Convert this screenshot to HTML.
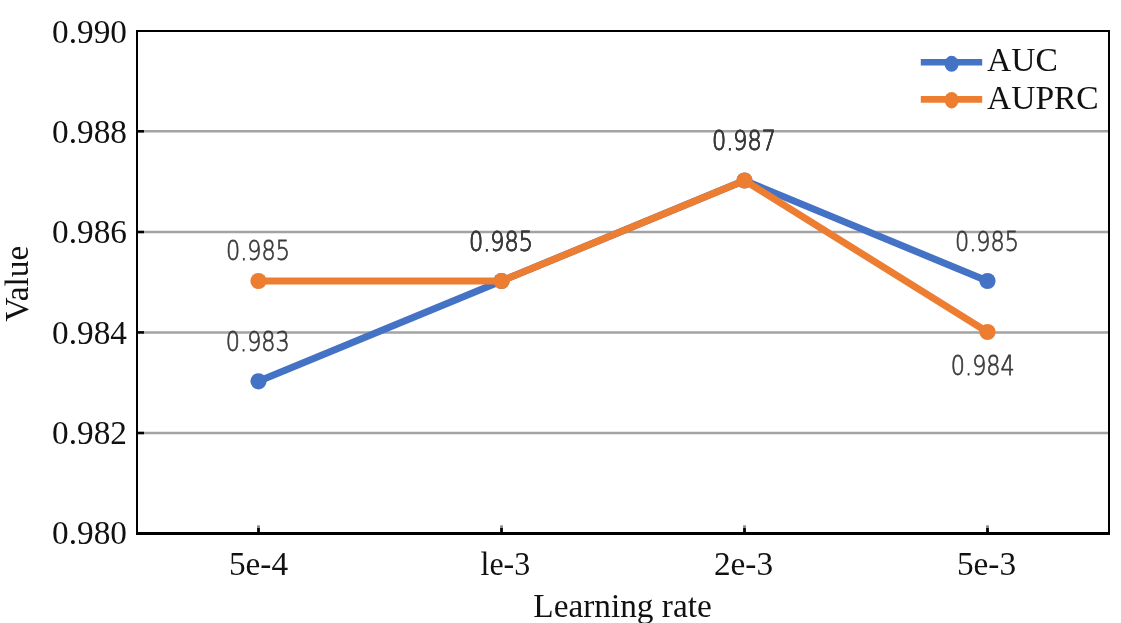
<!DOCTYPE html>
<html>
<head>
<meta charset="utf-8">
<style>
html,body{margin:0;padding:0;background:#fff;}
body{width:1121px;height:623px;overflow:hidden;}
svg{display:block;will-change:transform;}
.ax{font-family:"Liberation Serif","Times New Roman",serif;font-size:33.3px;fill:#111;}
.lg{font-family:"Liberation Serif","Times New Roman",serif;font-size:33.5px;fill:#111;}
.dl{font-family:"DejaVu Sans","Liberation Sans",sans-serif;font-weight:200;font-size:27.4px;fill:#3a3a3a;stroke:#3a3a3a;stroke-width:0.75;}
</style>
</head>
<body>
<svg width="1121" height="623" viewBox="0 0 1121 623">
<rect x="0" y="0" width="1121" height="623" fill="#fff"/>
<!-- gridlines -->
<g stroke="#a3a3a3" stroke-width="2.5">
<line x1="138" y1="131.3" x2="1108" y2="131.3"/>
<line x1="138" y1="232" x2="1108" y2="232"/>
<line x1="138" y1="332.4" x2="1108" y2="332.4"/>
<line x1="138" y1="433" x2="1108" y2="433"/>
</g>
<!-- y tick marks (inner) -->
<g stroke="#000" stroke-width="2.5">
<line x1="138" y1="131.3" x2="144" y2="131.3"/>
<line x1="138" y1="232" x2="144" y2="232"/>
<line x1="138" y1="332.4" x2="144" y2="332.4"/>
<line x1="138" y1="433" x2="144" y2="433"/>
</g>
<!-- x tick marks -->
<g stroke="#888" stroke-width="2.8">
<line x1="258.5" y1="525.3" x2="258.5" y2="528"/>
<line x1="501.5" y1="525.3" x2="501.5" y2="528"/>
<line x1="744.5" y1="525.3" x2="744.5" y2="528"/>
<line x1="987.5" y1="525.3" x2="987.5" y2="528"/>
</g>
<g stroke="#000" stroke-width="2.8">
<line x1="258.5" y1="528" x2="258.5" y2="533"/>
<line x1="501.5" y1="528" x2="501.5" y2="533"/>
<line x1="744.5" y1="528" x2="744.5" y2="533"/>
<line x1="987.5" y1="528" x2="987.5" y2="533"/>
</g>
<!-- frame -->
<path d="M137 31 H1109 V533.5 H137 Z" fill="none" stroke="#000" stroke-width="2"/>
<line x1="136" y1="533.5" x2="1110" y2="533.5" stroke="#000" stroke-width="3"/>

<!-- series AUC -->
<polyline points="258.5,381.3 501.5,281 744.5,180.5 987.5,281" fill="none" stroke="#4472c4" stroke-width="7" stroke-linejoin="round"/>
<g fill="#4472c4">
<circle cx="258.5" cy="381.3" r="8.1"/>
<circle cx="501.5" cy="281" r="8.1"/>
<circle cx="744.5" cy="180.5" r="8.1"/>
<circle cx="987.5" cy="281" r="8.1"/>
</g>
<!-- series AUPRC -->
<polyline points="258.5,281 501.5,281 744.5,180.5 987.5,332" fill="none" stroke="#ed7d31" stroke-width="7" stroke-linejoin="round"/>
<g fill="#ed7d31">
<circle cx="258.5" cy="281" r="8.1"/>
<circle cx="501.5" cy="281" r="8.1"/>
<circle cx="744.5" cy="180.5" r="8.1"/>
<circle cx="987.5" cy="332" r="8.1"/>
</g>

<!-- data labels -->
<g class="dl" text-anchor="middle">
<text transform="translate(258,260.1) scale(0.815,1)">0.985</text>
<text transform="translate(257.8,350.9) scale(0.815,1)">0.983</text>
<text transform="translate(501,251.1) scale(0.815,1)">0.985</text>
<text transform="translate(501,251.1) scale(0.815,1)">0.985</text>
<text transform="translate(744,150.3) scale(0.815,1)">0.987</text>
<text transform="translate(744,150.3) scale(0.815,1)">0.987</text>
<text transform="translate(987,251.1) scale(0.815,1)">0.985</text>
<text transform="translate(982.8,375.3) scale(0.815,1)">0.984</text>
</g>

<!-- y axis labels -->
<g class="ax" text-anchor="end">
<text x="127" y="42.9">0.990</text>
<text x="127" y="142.9">0.988</text>
<text x="127" y="243.1">0.986</text>
<text x="127" y="343.5">0.984</text>
<text x="127" y="443.5">0.982</text>
<text x="127" y="543.5">0.980</text>
</g>
<!-- x axis labels -->
<g class="ax" text-anchor="middle">
<text x="258.5" y="575">5e-4</text>
<text transform="translate(505.4,575) scale(0.96,1)">le-3</text>
<text x="743.5" y="575">2e-3</text>
<text x="986.5" y="575">5e-3</text>
<text x="622.5" y="617">Learning rate</text>
</g>
<text class="ax" text-anchor="middle" transform="translate(28,283.7) rotate(-90)">Value</text>

<!-- legend -->
<line x1="920.8" y1="62.35" x2="982.2" y2="62.35" stroke="#4472c4" stroke-width="6.5"/>
<ellipse cx="951.6" cy="63.8" rx="7" ry="8" fill="#4472c4"/>
<line x1="920.8" y1="99.3" x2="982.2" y2="99.3" stroke="#ed7d31" stroke-width="6.7"/>
<ellipse cx="951.6" cy="100.2" rx="7" ry="8.3" fill="#ed7d31"/>
<text class="lg" x="987" y="71.3">AUC</text>
<text class="lg" x="987" y="109.4">AUPRC</text>
</svg>
</body>
</html>
